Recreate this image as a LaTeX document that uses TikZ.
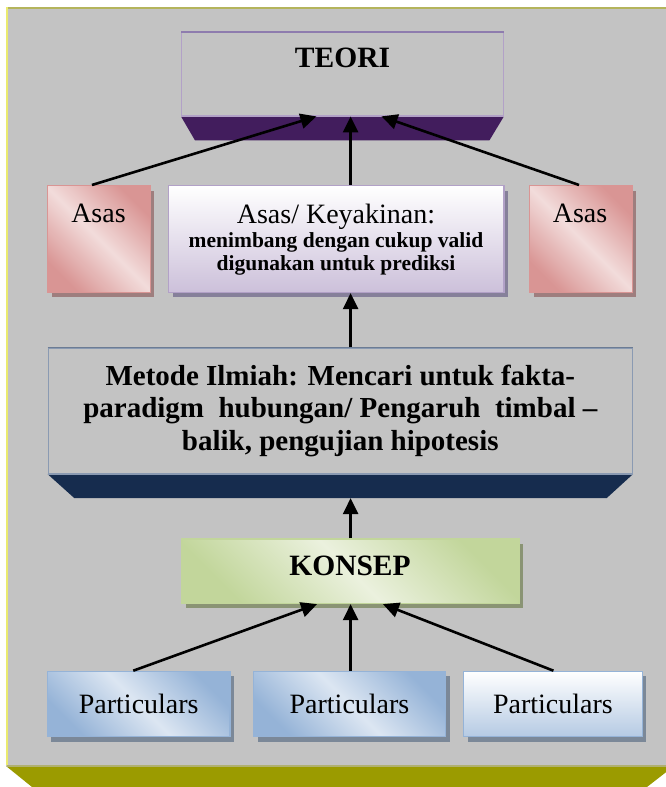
\documentclass[tikz,border=0pt]{standalone}
\usepackage{fontspec}
\setmainfont{Liberation Serif}
\usetikzlibrary{arrows.meta,calc,shadows}

\definecolor{panelgray}{HTML}{C3C3C3}
\definecolor{paneltop}{HTML}{B4B45C}
\definecolor{panelleft}{HTML}{EBEB6E}
\definecolor{olivebase}{HTML}{9B9B00}
\definecolor{olivelight}{HTML}{B0B070}
\definecolor{teoriline}{HTML}{B2A1C7}
\definecolor{teoritop}{HTML}{8E7CAE}
\definecolor{teoribase}{HTML}{421D5D}
\definecolor{metline}{HTML}{8A9AB2}
\definecolor{mettop}{HTML}{6C7C94}
\definecolor{metbase}{HTML}{162C4E}
\definecolor{asasdark}{HTML}{D99594}
\definecolor{asaslight}{HTML}{F2DCDB}
\definecolor{asasshadow}{HTML}{9E7E7E}
\definecolor{lavender}{HTML}{CCC0DA}
\definecolor{lavline}{HTML}{B2A1C7}
\definecolor{lavshadow}{HTML}{86809A}
\definecolor{greendark}{HTML}{C2D69B}
\definecolor{greenlight}{HTML}{EBF1DE}
\definecolor{greenshadow}{HTML}{8A9474}
\definecolor{bluedark}{HTML}{95B3D7}
\definecolor{bluelight}{HTML}{DCE6F2}
\definecolor{blueshadow}{HTML}{7B8898}

\newcommand{\bigtext}{\fontsize{28}{32}\selectfont}
\newcommand{\headtext}{\fontsize{29.5}{32}\selectfont\bfseries}
\newcommand{\smallbold}{\fontsize{21.5}{23}\selectfont\bfseries}

\begin{document}
\begin{tikzpicture}[x=1pt,y=-1pt,
  big/.style={font=\bigtext},
  head/.style={font=\headtext},
  box/.style={anchor=north west, inner sep=0pt, line width=1.4pt},
  diag/.style 2 args={left color=#1, right color=#1, middle color=#2, shading angle=135},
  shadowed/.style={drop shadow={shadow xshift=4pt, shadow yshift=-5pt, opacity=1, fill=#1}},
  arr/.style={line width=2.6pt, -{Triangle[length=16pt,width=15pt]}},
]
\useasboundingbox (0,0) rectangle (666,787);
\clip (0,0) rectangle (666,787);

% background panel with its bevelled base
\fill[panelgray] (6,7) rectangle (690,766);
\fill[olivebase] (6,766) -- (674,766) -- (647,787) -- (32,787) -- cycle;
\draw[olivelight, line width=2pt] (7,765.5) -- (680,765.5);
\draw[paneltop, line width=2.6pt] (6,8) -- (690,8);
\draw[panelleft, line width=2.4pt] (7.2,7) -- (7.2,765);

% TEORI block
\node[box, draw=teoriline, minimum width=321.5pt, minimum height=83pt] (teori) at (181,32) {};
\fill[teoribase] (teori.south west) -- (teori.south east) -- ++(-14.5,24) -- ($(teori.south west)+(14,24)$) -- cycle;
\draw[teoriline, line width=1.4pt] (teori.south west) -- (teori.south east);
\draw[teoritop, line width=1.4pt] (teori.north west) -- (teori.north east);
\node[head] (teoriT) at (342.5,58) {TEORI};

% second row
\node[box, draw=asasdark, diag={asasdark}{asaslight}, shadowed=asasshadow,
      minimum width=102.5pt, minimum height=106.7pt] (asasL) at (47,185) {};
\node[big] (asasLT) at (98.5,213) {Asas};

\node[box, draw=lavline, top color=white, bottom color=lavender, shadowed=lavshadow,
      minimum width=335.4pt, minimum height=106.7pt] (keyak) at (168,185) {};
\node[big, anchor=base] (keyakT1) at (336,223) {Asas/ Keyakinan:};
\node[font=\smallbold, anchor=base] (keyakT2) at (336,247) {menimbang dengan cukup valid};
\node[font=\smallbold, anchor=base] (keyakT3) at (336,270) {digunakan untuk prediksi};

\node[box, draw=asasdark, diag={asasdark}{asaslight}, shadowed=asasshadow,
      minimum width=102.7pt, minimum height=106.7pt] (asasR) at (529,185) {};
\node[big] (asasRT) at (580,213) {Asas};

% scientific method block
\node[box, draw=metline, minimum width=584pt, minimum height=125.4pt, align=center,
      font=\fontsize{29}{32.5}\selectfont\bfseries] (metode) at (47.6,347.3)
  {Metode Ilmiah: Mencari untuk fakta-\\
   paradigm\ \ hubungan/ Pengaruh\ \ timbal –\\
   balik, pengujian hipotesis};
\fill[metbase] (metode.south west) -- (metode.south east) -- ++(-26.3,24) -- ($(metode.south west)+(26.7,24)$) -- cycle;
\draw[metline, line width=1.4pt] (metode.south west) -- (metode.south east);
\draw[mettop, line width=1.4pt] (metode.north west) -- (metode.north east);

% KONSEP
\node[box, draw=greendark, diag={greendark}{greenlight}, shadowed=greenshadow,
      minimum width=337pt, minimum height=64.4pt] (konsep) at (181.4,538.3) {};
\node[head] (konsepT) at (350,566) {KONSEP};

% particulars
\node[box, big, draw=bluedark, diag={bluedark}{bluelight}, shadowed=blueshadow,
      minimum width=182.7pt, minimum height=65.3pt] (partL) at (46.7,670.7) {Particulars};
\node[box, big, draw=bluedark, diag={bluedark}{bluelight}, shadowed=blueshadow,
      minimum width=192pt, minimum height=65.3pt] (partM) at (252.8,670.7) {Particulars};
\node[box, big, draw=bluedark, top color=white, bottom color=bluedark!70!white, shadowed=blueshadow,
      minimum width=178.5pt, minimum height=65.3pt] (partR) at (463,670.7) {Particulars};

% connectors
\draw[arr] ($(asasL.north)+(-7,0)$) -- ($(teori.south)+(-26,0)$);
\draw[arr] (keyak.north -| konsep.north) -- (teori.south -| konsep.north);
\draw[arr] ($(asasR.north)+(-2,0)$) -- ($(teori.south)+(39,0)$);
\draw[arr] (metode.north -| konsep.north) -- (keyak.south -| konsep.north);
\draw[arr] (konsep.north) -- ($(konsep.north |- metode.south)+(0,24)$);
\draw[arr] ($(partL.north)+(-5.5,0)$) -- ($(konsep.south)+(-33.5,0)$);
\draw[arr] (partM.north -| konsep.south) -- (konsep.south);
\draw[arr] ($(partR.north)+(0.5,0)$) -- ($(konsep.south)+(32.3,0)$);
\end{tikzpicture}
\end{document}
